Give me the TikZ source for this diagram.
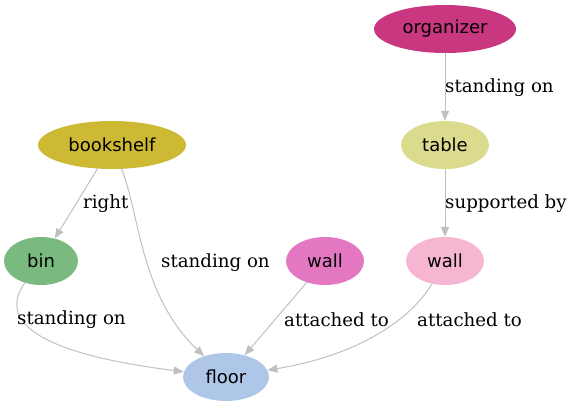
\documentclass[tikz,border=0pt]{standalone}
\usepackage{fontspec}
\setmainfont{DejaVu Serif}
\newfontfamily\nodefont{DejaVu Sans}
\usepackage{tikz}
\usetikzlibrary{arrows.meta,shapes.geometric}
\definecolor{EdgeGray}{RGB}{192,192,192}
\definecolor{OrganizerRed}{RGB}{201,55,128}
\definecolor{TableOlive}{RGB}{219,219,141}
\definecolor{ShelfOlive}{RGB}{205,185,52}
\definecolor{BinGreen}{RGB}{122,185,127}
\definecolor{WallPink}{RGB}{227,119,194}
\definecolor{WallRose}{RGB}{246,182,210}
\definecolor{FloorBlue}{RGB}{174,199,232}
\begin{document}
\begin{tikzpicture}[x=1pt,y=-1pt,>={Triangle[length=10pt,width=8pt]},
  obj/.style={ellipse,inner sep=0pt,minimum height=48pt,font=\nodefont\fontsize{18}{20}\selectfont},
  rel/.style={->,draw=EdgeGray,line width=1pt},
  lbl/.style={anchor=west,inner sep=0pt,font=\fontsize{18.2}{20}\selectfont}]
\useasboundingbox (0,0) rectangle (577,407);
\node[obj,fill=OrganizerRed,minimum width=142pt] (organizer) at (445,29) {organizer};
\node[obj,fill=TableOlive,minimum width=88pt] (table) at (445,145) {table};
\node[obj,fill=ShelfOlive,minimum width=148pt] (bookshelf) at (112,145) {bookshelf};
\node[obj,fill=BinGreen,minimum width=74pt] (bin) at (41,261) {bin};
\node[obj,fill=WallPink,minimum width=78pt] (wallA) at (325,261) {wall};
\node[obj,fill=WallRose,minimum width=78pt] (wallB) at (445,261) {wall};
\node[obj,fill=FloorBlue,minimum width=86pt] (floor) at (226,377) {floor};
% edges
\draw[rel] (organizer)--(table);
\draw[rel] (table)--(wallB);
\draw[rel] (bookshelf)--(bin);
\draw[rel] (bookshelf) .. controls (140,215) and (140,295) .. (floor);
\draw[rel] (bin) .. controls (5,310) and (10,350) .. (floor);
\draw[rel] (wallA)--(floor);
\draw[rel] (wallB) .. controls (412,318) and (360,355) .. (floor);
% labels
\node[lbl] (l1) at (445,88) {standing on};
\node[lbl] (l2) at (445,204) {supported by};
\node[lbl] (l3) at (83,204) {right};
\node[lbl] (l4) at (161,263) {standing on};
\node[lbl] (l5) at (17,320) {standing on};
\node[lbl] (l6) at (284,320) {attached to};
\node[lbl] (l7) at (417,320) {attached to};
\end{tikzpicture}
\end{document}
